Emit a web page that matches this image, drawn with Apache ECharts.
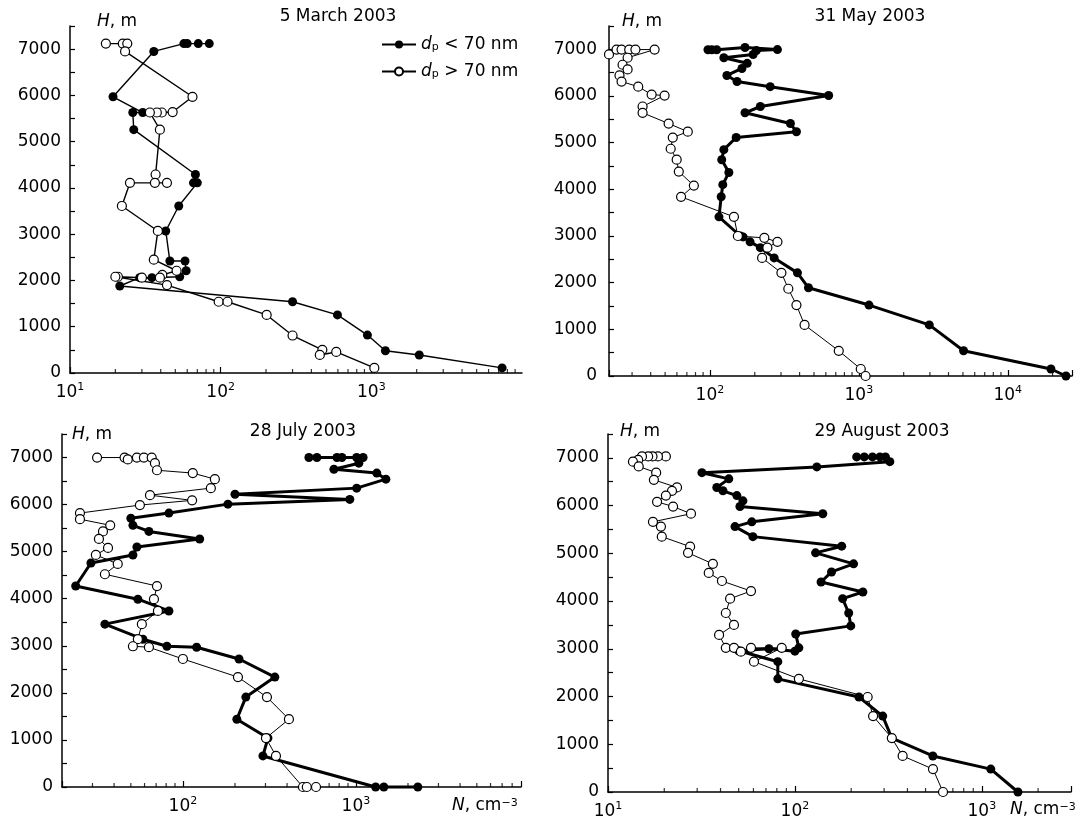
<!DOCTYPE html>
<html>
<head>
<meta charset="utf-8">
<script src="https://cdn.jsdelivr.net/npm/echarts@6/dist/echarts.min.js"></script>
<style>
html, body { margin: 0; padding: 0; background: #fff; }
#chart { width: 1086px; height: 821px; }
</style>
</head>
<body>
<div id="chart"></div>
<script>
// 5 March 2003
const marchFineN = [84, 71, 60, 57, 36, 19.3, 30.4, 26.1, 26.5, 68, 66, 70, 52.7, 43.2, 46, 58, 59, 53.5, 35, 29, 21.4, 300, 596, 942, 1240, 2080, 7380];
const marchFineH = [7120, 7120, 7120, 7120, 6950, 5970, 5630, 5630, 5260, 4290, 4110, 4110, 3610, 3070, 2420, 2420, 2210, 2080, 2060, 2060, 1880, 1540, 1255, 820, 480, 390, 110];
const marchCoarseN = [17.3, 22.4, 24, 23.2, 65, 48, 40.7, 37.7, 33.9, 39.5, 37, 36.6, 44, 25, 22.1, 38.3, 36, 51, 41, 39.5, 30, 20.8, 20, 44, 97, 111, 202, 300, 473, 455, 585, 1047];
const marchCoarseH = [7120, 7120, 7120, 6950, 5970, 5640, 5630, 5630, 5630, 5260, 4290, 4110, 4110, 4110, 3610, 3070, 2450, 2210, 2120, 2060, 2060, 2080, 2080, 1900, 1540, 1540, 1255, 810, 500, 390, 455, 110];

// 31 May 2003
const mayFineN = [97, 103, 111, 172, 284, 205, 195, 124, 178, 164, 130, 152, 254, 627, 218, 172, 347, 381, 150, 124, 120, 134, 122, 119, 115, 160, 167, 186, 218, 270, 387, 459, 1170, 2970, 5050, 19500, 24600];
const mayFineH = [6990, 6990, 6990, 7040, 6995, 6975, 6890, 6820, 6700, 6590, 6440, 6310, 6200, 6010, 5775, 5640, 5410, 5235, 5110, 4850, 4635, 4360, 4100, 3840, 3410, 3000, 2980, 2875, 2750, 2530, 2210, 1890, 1520, 1095, 540, 150, 0];
const mayCoarseN = [21, 23.6, 25.5, 28.7, 31.6, 42.5, 28, 25.9, 28, 24.7, 25.5, 33, 40.6, 49.6, 35.3, 35.3, 52.8, 71, 56.3, 54.5, 59.8, 61.8, 78, 64, 145, 154, 232, 284, 243, 224, 302, 336, 381, 432, 733, 1030, 1110];
const mayCoarseH = [6890, 6995, 6995, 6995, 6995, 6995, 6820, 6670, 6570, 6440, 6310, 6200, 6030, 6010, 5775, 5640, 5410, 5235, 5110, 4870, 4635, 4380, 4080, 3840, 3410, 3000, 2960, 2875, 2750, 2530, 2210, 1870, 1520, 1095, 540, 150, 0];

// 28 July 2003
const julyFineN = [535, 595, 777, 830, 1010, 1100, 1040, 746, 1320, 1490, 1010, 200, 922, 182, 83, 50, 51.4, 63.6, 125, 54.2, 51.4, 29.4, 24, 54.9, 83, 35.4, 58.7, 80.8, 120, 211, 340, 231, 205, 310, 290, 1300, 1450, 2280];
const julyFineH = [7000, 7000, 7000, 7000, 7000, 7000, 6880, 6750, 6670, 6540, 6350, 6220, 6110, 6010, 5820, 5710, 5560, 5430, 5270, 5100, 4930, 4760, 4270, 3990, 3740, 3460, 3140, 2990, 2970, 2720, 2335, 1910, 1440, 1040, 660, 0, 0, 0];
const julyCoarseN = [31.9, 46, 48, 54.2, 59.5, 66, 68.9, 70.8, 114, 153, 145, 64.5, 113, 56.4, 25.4, 25.4, 38, 34.5, 32.7, 36.9, 31.4, 42, 35.4, 70.8, 68, 71.7, 57.9, 54.9, 51.4, 63.6, 100, 208, 306, 410, 302, 345, 494, 520, 588];
const julyCoarseH = [7000, 7000, 6960, 7000, 7000, 7000, 6880, 6730, 6670, 6540, 6350, 6200, 6090, 5990, 5820, 5690, 5560, 5430, 5270, 5080, 4930, 4740, 4520, 4270, 3990, 3740, 3460, 3140, 2990, 2970, 2720, 2335, 1910, 1440, 1040, 660, 0, 0, 0];

// 29 August 2003
const augFineN = [214, 235, 260, 285, 305, 322, 131, 31.8, 44.3, 38.2, 41.2, 48.9, 52.7, 50.8, 141, 58.8, 47.8, 59.6, 178, 129, 206, 157, 138, 231, 180, 194, 199, 101, 105, 100, 72.6, 50, 81, 81, 220, 295, 330, 547, 1117, 1560];
const augFineH = [7020, 7020, 7020, 7020, 7020, 6920, 6810, 6690, 6560, 6380, 6310, 6210, 6100, 5980, 5830, 5660, 5560, 5350, 5150, 5010, 4780, 4610, 4400, 4190, 4050, 3750, 3480, 3310, 3020, 2950, 3000, 2960, 2730, 2370, 1990, 1590, 1130, 755, 480, 0];
const augCoarseN = [20.4, 18.5, 17.3, 16.4, 15.2, 14.5, 13.6, 14.6, 18.1, 17.6, 23.4, 22, 20.4, 18.3, 22.3, 27.8, 17.4, 19.2, 19.4, 27.5, 26.8, 36.4, 34.6, 40.7, 58.2, 45, 42.7, 47.2, 39.3, 42.7, 47.2, 51.4, 58.2, 85, 60.4, 105, 245, 262, 330, 377, 548, 620];
const augCoarseH = [7030, 7030, 7030, 7030, 7030, 6960, 6920, 6820, 6690, 6540, 6380, 6310, 6210, 6080, 5980, 5830, 5660, 5560, 5350, 5140, 5010, 4780, 4590, 4420, 4210, 4050, 3750, 3500, 3290, 3020, 3020, 2940, 3020, 3020, 2730, 2370, 1990, 1590, 1130, 755, 480, 0];

// minor ticks of the log axes (2..9 of each decade)
const minorTicksMarch = [20, 30, 40, 50, 60, 70, 80, 90, 200, 300, 400, 500, 600, 700, 800, 900, 2000, 3000, 4000, 5000, 6000, 7000, 8000, 9000];
const minorTicksMay = [30, 40, 50, 60, 70, 80, 90, 200, 300, 400, 500, 600, 700, 800, 900, 2000, 3000, 4000, 5000, 6000, 7000, 8000, 9000, 20000];
const minorTicksJuly = [30, 40, 50, 60, 70, 80, 90, 200, 300, 400, 500, 600, 700, 800, 900, 2000, 3000, 4000, 5000, 6000, 7000, 8000];
const minorTicksAug = [20, 30, 40, 50, 60, 70, 80, 90, 200, 300, 400, 500, 600, 700, 800, 900, 2000];

const FONT = 'DejaVu Sans';
const FS = 17;

const chart = echarts.init(document.getElementById('chart'));

function pairs(n, h) {
  return n.map((v, i) => [v, h[i]]);
}

const grids = [
  { left: 70, top: 26, width: 452, height: 347 },
  { left: 609, top: 26, width: 463, height: 350 },
  { left: 62, top: 434, width: 459, height: 353 },
  { left: 608, top: 434, width: 463, height: 358 }
];
const xRanges = [[10, 10000], [21, 27000], [20, 9000], [10, 3000]];

function xAxis(i) {
  return {
    type: 'log',
    logBase: 10,
    gridIndex: i,
    min: xRanges[i][0],
    max: xRanges[i][1],
    splitLine: { show: false },
    axisLine: { lineStyle: { color: '#000', width: 1.5 } },
    axisTick: { inside: true, length: 6, lineStyle: { color: '#000', width: 1.2 } },
    axisLabel: {
      showMaxLabel: i !== 0,
      margin: 9,
      color: '#000',
      formatter: function (v) {
        const l = Math.log10(v);
        const e = Math.round(l);
        if (Math.abs(l - e) > 1e-6) return '';
        return '{b|10}{s|' + e + '}';
      },
      rich: {
        b: { fontFamily: FONT, fontSize: FS, color: '#000', lineHeight: 22 },
        s: { fontFamily: FONT, fontSize: 11, color: '#000', verticalAlign: 'top', lineHeight: 12 }
      }
    }
  };
}

function yAxis(i) {
  return {
    type: 'value',
    gridIndex: i,
    min: 0,
    max: 7500,
    interval: 500,
    splitLine: { show: false },
    axisLine: { lineStyle: { color: '#000', width: 1.5 } },
    axisTick: { inside: true, length: 5, lineStyle: { color: '#000', width: 1.2 } },
    axisLabel: {
      interval: 0,
      margin: i === 1 ? 12 : 9,
      color: '#000',
      fontFamily: FONT,
      fontSize: FS,
      formatter: function (v) { return v % 1000 === 0 ? String(v) : ''; }
    }
  };
}

function profile(name, i, data, filled, width) {
  return {
    name: name,
    type: 'line',
    xAxisIndex: i,
    yAxisIndex: i,
    data: data,
    symbol: 'circle',
    symbolSize: 9,
    clip: false,
    silent: true,
    lineStyle: { color: '#000', width: width },
    itemStyle: filled
      ? { color: '#000', borderColor: '#000', borderWidth: 0 }
      : { color: '#fff', borderColor: '#000', borderWidth: 1.2 },
    emphasis: { disabled: true }
  };
}

function ticks(i, vals) {
  return {
    type: 'scatter',
    xAxisIndex: i,
    yAxisIndex: i,
    data: vals.map(v => [v, 0]),
    symbol: 'rect',
    symbolSize: [1.2, 4],
    symbolOffset: [0, -2],
    clip: false,
    silent: true,
    itemStyle: { color: '#000' },
    z: 1
  };
}

const FINE = 'fine';
const COARSE = 'coarse';

const series = [
  profile(FINE, 0, pairs(marchFineN, marchFineH), true, 1.4),
  profile(COARSE, 0, pairs(marchCoarseN, marchCoarseH), false, 1.4),
  profile(FINE, 1, pairs(mayFineN, mayFineH), true, 3),
  profile(COARSE, 1, pairs(mayCoarseN, mayCoarseH), false, 1),
  profile(FINE, 2, pairs(julyFineN, julyFineH), true, 3),
  profile(COARSE, 2, pairs(julyCoarseN, julyCoarseH), false, 1),
  profile(FINE, 3, pairs(augFineN, augFineH), true, 3),
  profile(COARSE, 3, pairs(augCoarseN, augCoarseH), false, 1),
  ticks(0, minorTicksMarch),
  ticks(1, minorTicksMay),
  ticks(2, minorTicksJuly),
  ticks(3, minorTicksAug)
];

function label(text, x, y, align) {
  return {
    type: 'text',
    x: x,
    y: y,
    silent: true,
    style: {
      text: text,
      align: align || 'left',
      verticalAlign: 'middle',
      fill: '#000',
      fontFamily: FONT,
      fontSize: FS,
      rich: {
        i: { fontFamily: FONT, fontSize: FS, fontStyle: 'italic', fill: '#000' },
        s: { fontFamily: FONT, fontSize: 11, fill: '#000', verticalAlign: 'top' }
      }
    }
  };
}

const option = {
  animation: false,
  backgroundColor: '#fff',
  grid: grids,
  xAxis: [0, 1, 2, 3].map(xAxis),
  yAxis: [0, 1, 2, 3].map(yAxis),
  legend: {
    data: [FINE, COARSE],
    orient: 'vertical',
    left: 376,
    top: 31,
    itemWidth: 34,
    itemHeight: 10,
    itemGap: 10,
    selectedMode: false,
    formatter: function (name) {
      return name === FINE ? '{i|d}{s|p} < 70 nm' : '{i|d}{s|p} > 70 nm';
    },
    textStyle: {
      color: '#000',
      fontFamily: FONT,
      fontSize: FS,
      rich: {
        i: { fontFamily: FONT, fontSize: FS, fontStyle: 'italic', color: '#000' },
        s: { fontFamily: FONT, fontSize: 11, color: '#000', verticalAlign: 'bottom', padding: [6, 0, 0, 0] }
      }
    }
  },
  graphic: [
    label('5 March 2003', 338, 17, 'center'),
    label('31 May 2003', 870, 17, 'center'),
    label('28 July 2003', 303, 432, 'center'),
    label('29 August 2003', 882, 432, 'center'),
    label('{i|H}, m', 97, 22),
    label('{i|H}, m', 622, 22),
    label('{i|H}, m', 72, 435),
    label('{i|H}, m', 620, 432),
    label('{i|N}, cm{s|\u22123}', 452, 806),
    label('{i|N}, cm{s|\u22123}', 1010, 810)
  ],
  series: series
};

chart.setOption(option);
</script>
</body>
</html>
